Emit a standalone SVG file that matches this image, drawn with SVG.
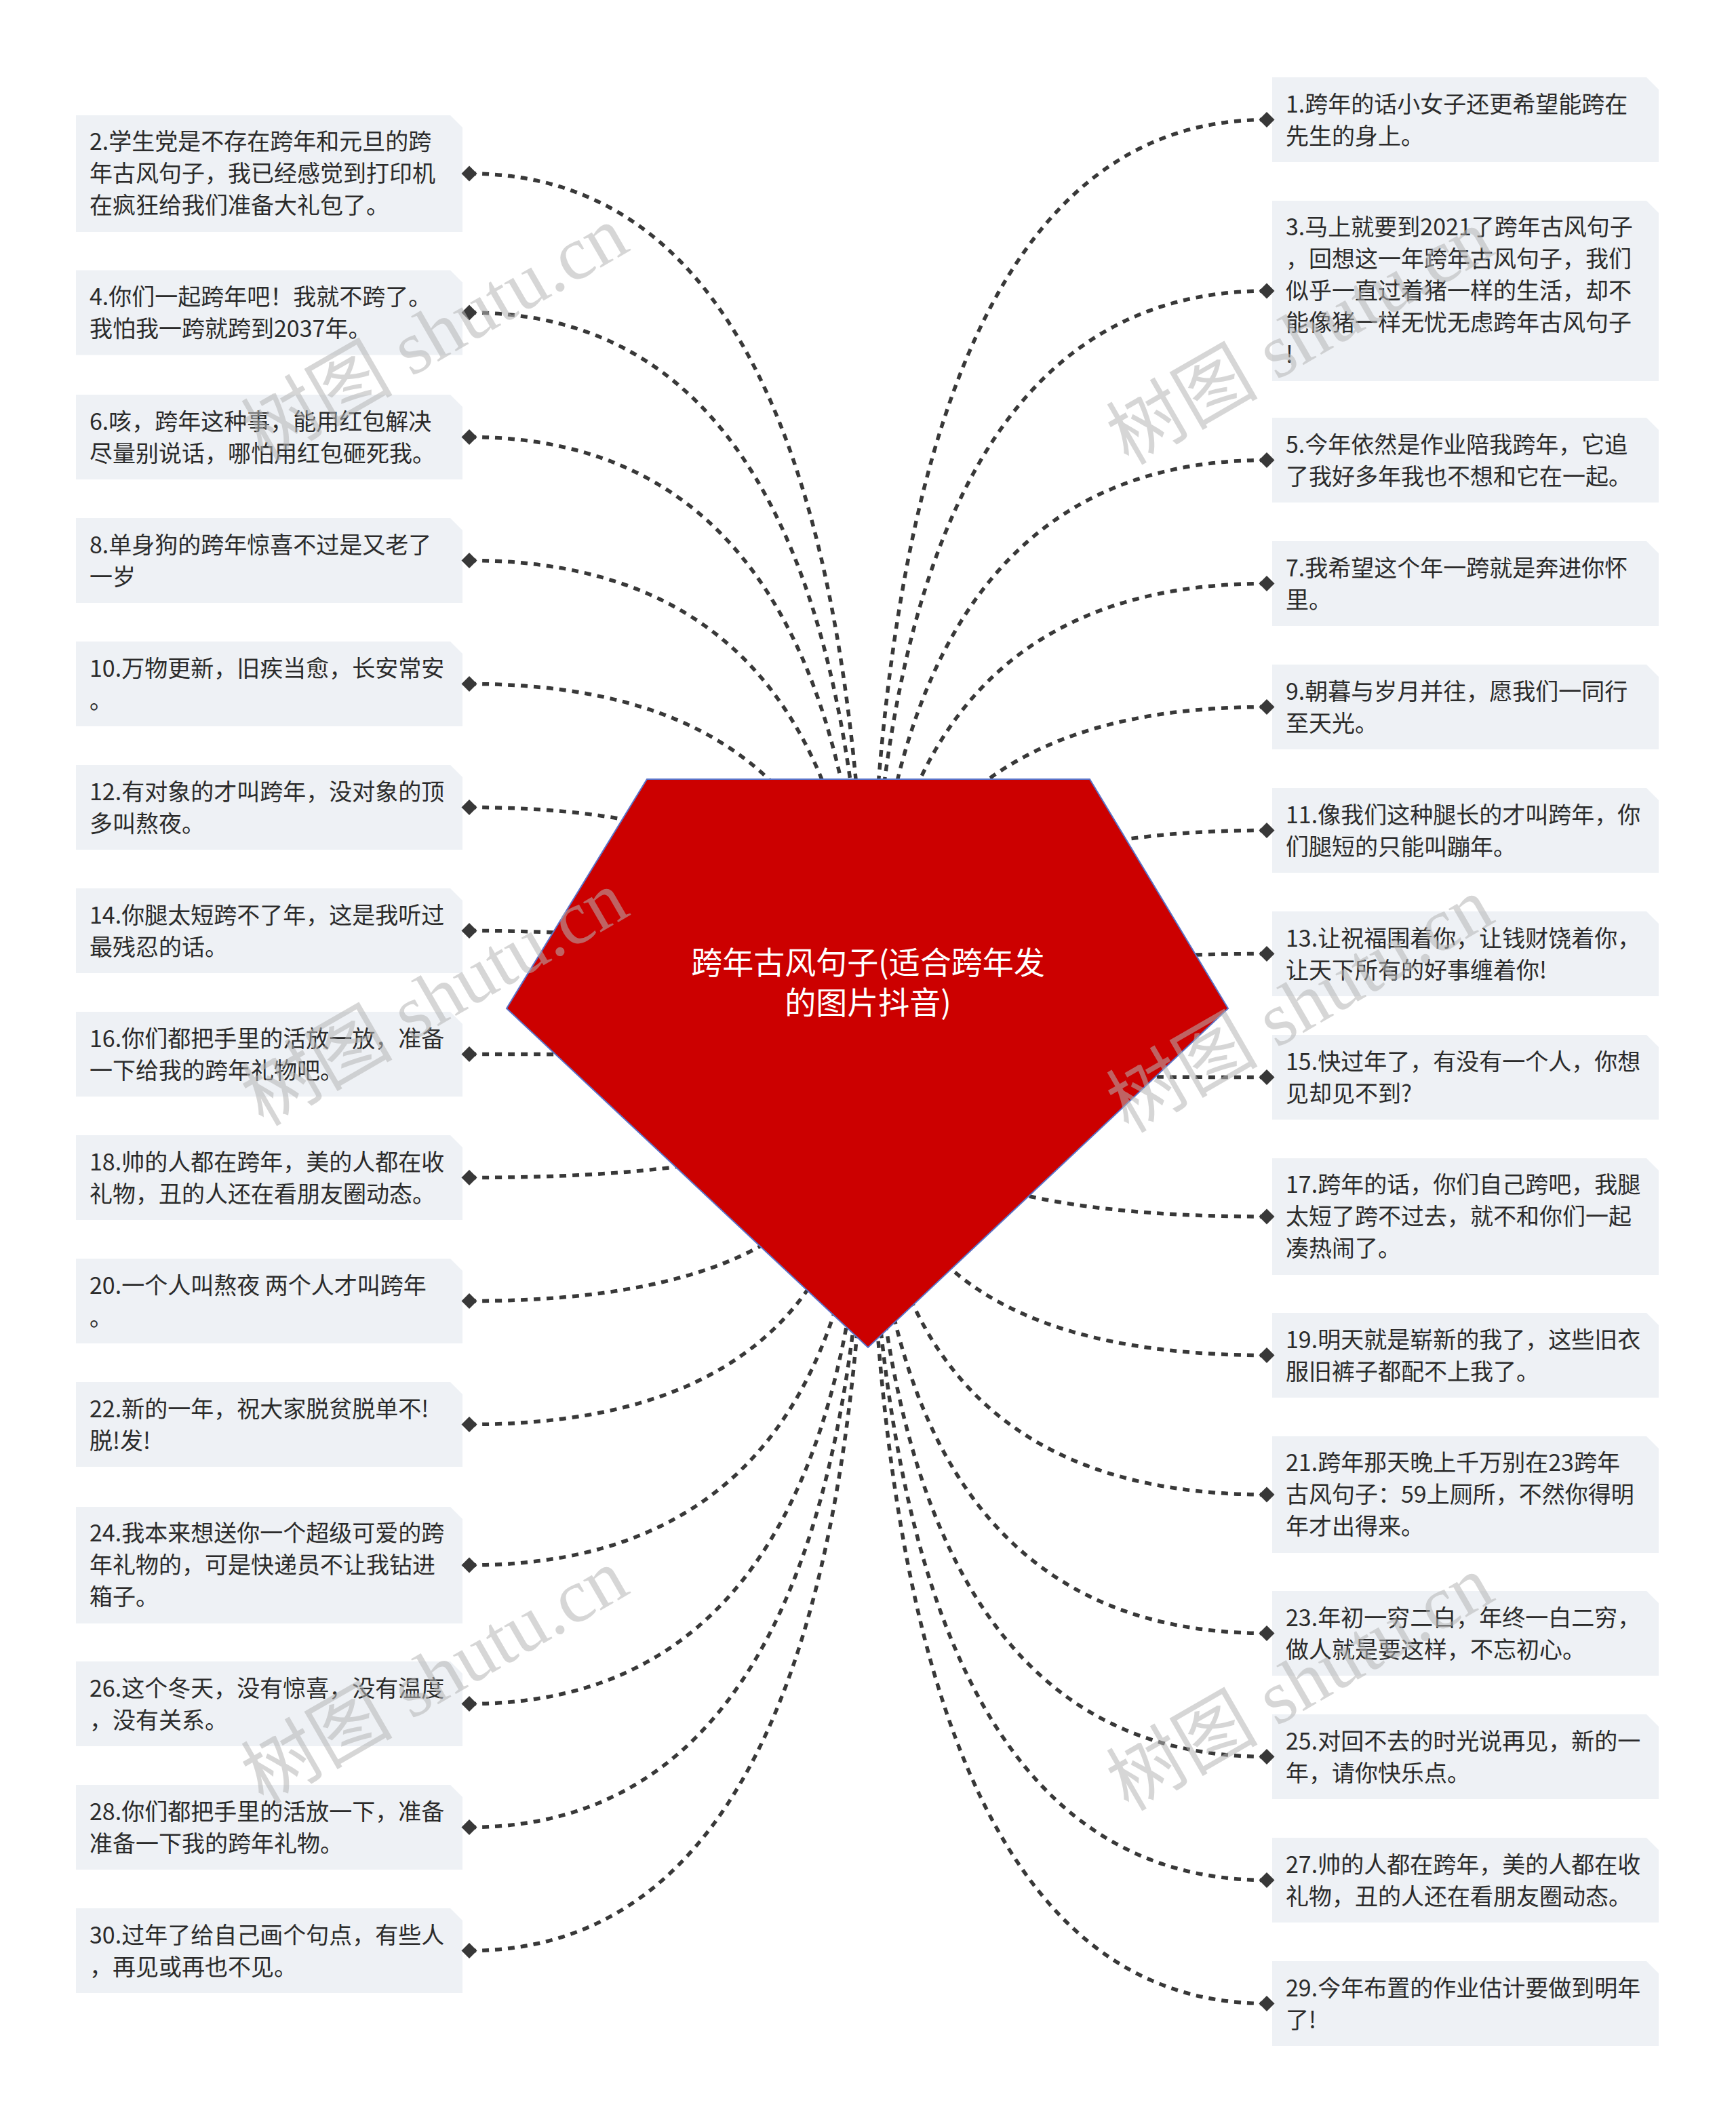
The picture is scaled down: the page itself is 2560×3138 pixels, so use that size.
<svg xmlns="http://www.w3.org/2000/svg" width="2560" height="3138" viewBox="0 0 2560 3138">
<defs>
<style>
.box{fill:#eef1f5;}
.t{font-family:"Noto Sans CJK SC","Noto Sans",sans-serif;font-size:34px;fill:#2b2b2b;}
.conn{fill:none;stroke:#383838;stroke-width:5.5;stroke-dasharray:10 9;}
.dia{fill:#383838;}
.root{fill:#cc0000;stroke:#5a72c8;stroke-width:2;}
.rt{font-family:"Noto Sans CJK SC","Noto Sans",sans-serif;font-size:46px;fill:#ffffff;text-anchor:middle;}
.wm{font-family:"Liberation Serif","Noto Sans CJK SC",serif;font-size:112px;fill:#b4b4b4;fill-opacity:0.55;text-anchor:middle;}
</style>
<path id="d" d="M -11.5 0 L 0 -11.5 L 11.5 0 L 0 11.5 Z"/>
</defs>
<rect width="2560" height="3138" fill="#ffffff"/>
<g id="connectors">
<path class="conn" d="M 692 256 Q 1280 256 1280 1568"/>
<path class="conn" d="M 692 461 Q 1280 461 1280 1568"/>
<path class="conn" d="M 692 644.5 Q 1280 644.5 1280 1568"/>
<path class="conn" d="M 692 826.5 Q 1280 826.5 1280 1568"/>
<path class="conn" d="M 692 1008.5 Q 1280 1008.5 1280 1568"/>
<path class="conn" d="M 692 1190.5 Q 1280 1190.5 1280 1568"/>
<path class="conn" d="M 692 1372.5 Q 1280 1372.5 1280 1568"/>
<path class="conn" d="M 692 1554.5 Q 1280 1554.5 1280 1568"/>
<path class="conn" d="M 692 1736.5 Q 1280 1736.5 1280 1568"/>
<path class="conn" d="M 692 1918.5 Q 1280 1918.5 1280 1568"/>
<path class="conn" d="M 692 2100.5 Q 1280 2100.5 1280 1568"/>
<path class="conn" d="M 692 2308 Q 1280 2308 1280 1568"/>
<path class="conn" d="M 692 2512.5 Q 1280 2512.5 1280 1568"/>
<path class="conn" d="M 692 2694.5 Q 1280 2694.5 1280 1568"/>
<path class="conn" d="M 692 2876.5 Q 1280 2876.5 1280 1568"/>
<path class="conn" d="M 1868 176.5 Q 1280 176.5 1280 1568"/>
<path class="conn" d="M 1868 429 Q 1280 429 1280 1568"/>
<path class="conn" d="M 1868 678.5 Q 1280 678.5 1280 1568"/>
<path class="conn" d="M 1868 860.5 Q 1280 860.5 1280 1568"/>
<path class="conn" d="M 1868 1042.5 Q 1280 1042.5 1280 1568"/>
<path class="conn" d="M 1868 1224.5 Q 1280 1224.5 1280 1568"/>
<path class="conn" d="M 1868 1406.5 Q 1280 1406.5 1280 1568"/>
<path class="conn" d="M 1868 1588.5 Q 1280 1588.5 1280 1568"/>
<path class="conn" d="M 1868 1794 Q 1280 1794 1280 1568"/>
<path class="conn" d="M 1868 1998.5 Q 1280 1998.5 1280 1568"/>
<path class="conn" d="M 1868 2204 Q 1280 2204 1280 1568"/>
<path class="conn" d="M 1868 2408.5 Q 1280 2408.5 1280 1568"/>
<path class="conn" d="M 1868 2590.5 Q 1280 2590.5 1280 1568"/>
<path class="conn" d="M 1868 2772.5 Q 1280 2772.5 1280 1568"/>
<path class="conn" d="M 1868 2954.5 Q 1280 2954.5 1280 1568"/>
</g>
<g id="root">
<polygon class="root" points="954,1149 1607,1149 1811,1487 1280,1987 747,1487"/>
<text class="rt" x="1280" y="1436">跨年古风句子(适合跨年发</text>
<text class="rt" x="1280" y="1495">的图片抖音)</text>
</g>
<g id="n2"><path class="box" d="M 112 170 h 552 l 18 18 v 154 h -570 Z"/><text class="t" x="132" y="221">2.学生党是不存在跨年和元旦的跨<tspan x="132" dy="47">年古风句子，我已经感觉到打印机</tspan><tspan x="132" dy="47">在疯狂给我们准备大礼包了。</tspan></text><use href="#d" class="dia" x="692" y="256"/></g>
<g id="n4"><path class="box" d="M 112 398.5 h 552 l 18 18 v 107 h -570 Z"/><text class="t" x="132" y="450">4.你们一起跨年吧！我就不跨了。<tspan x="132" dy="47">我怕我一跨就跨到2037年。</tspan></text><use href="#d" class="dia" x="692" y="461"/></g>
<g id="n6"><path class="box" d="M 112 582 h 552 l 18 18 v 107 h -570 Z"/><text class="t" x="132" y="633.5">6.咳，跨年这种事，能用红包解决<tspan x="132" dy="47">尽量别说话，哪怕用红包砸死我。</tspan></text><use href="#d" class="dia" x="692" y="644.5"/></g>
<g id="n8"><path class="box" d="M 112 764 h 552 l 18 18 v 107 h -570 Z"/><text class="t" x="132" y="815.5">8.单身狗的跨年惊喜不过是又老了<tspan x="132" dy="47">一岁</tspan></text><use href="#d" class="dia" x="692" y="826.5"/></g>
<g id="n10"><path class="box" d="M 112 946 h 552 l 18 18 v 107 h -570 Z"/><text class="t" x="132" y="997.5">10.万物更新，旧疾当愈，长安常安<tspan x="132" dy="47">。</tspan></text><use href="#d" class="dia" x="692" y="1008.5"/></g>
<g id="n12"><path class="box" d="M 112 1128 h 552 l 18 18 v 107 h -570 Z"/><text class="t" x="132" y="1179.5">12.有对象的才叫跨年，没对象的顶<tspan x="132" dy="47">多叫熬夜。</tspan></text><use href="#d" class="dia" x="692" y="1190.5"/></g>
<g id="n14"><path class="box" d="M 112 1310 h 552 l 18 18 v 107 h -570 Z"/><text class="t" x="132" y="1361.5">14.你腿太短跨不了年，这是我听过<tspan x="132" dy="47">最残忍的话。</tspan></text><use href="#d" class="dia" x="692" y="1372.5"/></g>
<g id="n16"><path class="box" d="M 112 1492 h 552 l 18 18 v 107 h -570 Z"/><text class="t" x="132" y="1543.5">16.你们都把手里的活放一放，准备<tspan x="132" dy="47">一下给我的跨年礼物吧。</tspan></text><use href="#d" class="dia" x="692" y="1554.5"/></g>
<g id="n18"><path class="box" d="M 112 1674 h 552 l 18 18 v 107 h -570 Z"/><text class="t" x="132" y="1725.5">18.帅的人都在跨年，美的人都在收<tspan x="132" dy="47">礼物，丑的人还在看朋友圈动态。</tspan></text><use href="#d" class="dia" x="692" y="1736.5"/></g>
<g id="n20"><path class="box" d="M 112 1856 h 552 l 18 18 v 107 h -570 Z"/><text class="t" x="132" y="1907.5">20.一个人叫熬夜 两个人才叫跨年<tspan x="132" dy="47">。</tspan></text><use href="#d" class="dia" x="692" y="1918.5"/></g>
<g id="n22"><path class="box" d="M 112 2038 h 552 l 18 18 v 107 h -570 Z"/><text class="t" x="132" y="2089.5">22.新的一年，祝大家脱贫脱单不!<tspan x="132" dy="47">脱!发!</tspan></text><use href="#d" class="dia" x="692" y="2100.5"/></g>
<g id="n24"><path class="box" d="M 112 2222 h 552 l 18 18 v 154 h -570 Z"/><text class="t" x="132" y="2273">24.我本来想送你一个超级可爱的跨<tspan x="132" dy="47">年礼物的，可是快递员不让我钻进</tspan><tspan x="132" dy="47">箱子。</tspan></text><use href="#d" class="dia" x="692" y="2308"/></g>
<g id="n26"><path class="box" d="M 112 2450 h 552 l 18 18 v 107 h -570 Z"/><text class="t" x="132" y="2501.5">26.这个冬天，没有惊喜，没有温度<tspan x="132" dy="47">，没有关系。</tspan></text><use href="#d" class="dia" x="692" y="2512.5"/></g>
<g id="n28"><path class="box" d="M 112 2632 h 552 l 18 18 v 107 h -570 Z"/><text class="t" x="132" y="2683.5">28.你们都把手里的活放一下，准备<tspan x="132" dy="47">准备一下我的跨年礼物。</tspan></text><use href="#d" class="dia" x="692" y="2694.5"/></g>
<g id="n30"><path class="box" d="M 112 2814 h 552 l 18 18 v 107 h -570 Z"/><text class="t" x="132" y="2865.5">30.过年了给自己画个句点，有些人<tspan x="132" dy="47">，再见或再也不见。</tspan></text><use href="#d" class="dia" x="692" y="2876.5"/></g>
<g id="n1"><path class="box" d="M 1876 114 h 552 l 18 18 v 107 h -570 Z"/><text class="t" x="1896" y="165.5">1.跨年的话小女子还更希望能跨在<tspan x="1896" dy="47">先生的身上。</tspan></text><use href="#d" class="dia" x="1868" y="176.5"/></g>
<g id="n3"><path class="box" d="M 1876 296 h 552 l 18 18 v 248 h -570 Z"/><text class="t" x="1896" y="347">3.马上就要到2021了跨年古风句子<tspan x="1896" dy="47">，回想这一年跨年古风句子，我们</tspan><tspan x="1896" dy="47">似乎一直过着猪一样的生活，却不</tspan><tspan x="1896" dy="47">能像猪一样无忧无虑跨年古风句子</tspan><tspan x="1896" dy="47">!</tspan></text><use href="#d" class="dia" x="1868" y="429"/></g>
<g id="n5"><path class="box" d="M 1876 616 h 552 l 18 18 v 107 h -570 Z"/><text class="t" x="1896" y="667.5">5.今年依然是作业陪我跨年，它追<tspan x="1896" dy="47">了我好多年我也不想和它在一起。</tspan></text><use href="#d" class="dia" x="1868" y="678.5"/></g>
<g id="n7"><path class="box" d="M 1876 798 h 552 l 18 18 v 107 h -570 Z"/><text class="t" x="1896" y="849.5">7.我希望这个年一跨就是奔进你怀<tspan x="1896" dy="47">里。</tspan></text><use href="#d" class="dia" x="1868" y="860.5"/></g>
<g id="n9"><path class="box" d="M 1876 980 h 552 l 18 18 v 107 h -570 Z"/><text class="t" x="1896" y="1031.5">9.朝暮与岁月并往，愿我们一同行<tspan x="1896" dy="47">至天光。</tspan></text><use href="#d" class="dia" x="1868" y="1042.5"/></g>
<g id="n11"><path class="box" d="M 1876 1162 h 552 l 18 18 v 107 h -570 Z"/><text class="t" x="1896" y="1213.5">11.像我们这种腿长的才叫跨年，你<tspan x="1896" dy="47">们腿短的只能叫蹦年。</tspan></text><use href="#d" class="dia" x="1868" y="1224.5"/></g>
<g id="n13"><path class="box" d="M 1876 1344 h 552 l 18 18 v 107 h -570 Z"/><text class="t" x="1896" y="1395.5">13.让祝福围着你，让钱财饶着你，<tspan x="1896" dy="47">让天下所有的好事缠着你!</tspan></text><use href="#d" class="dia" x="1868" y="1406.5"/></g>
<g id="n15"><path class="box" d="M 1876 1526 h 552 l 18 18 v 107 h -570 Z"/><text class="t" x="1896" y="1577.5">15.快过年了，有没有一个人，你想<tspan x="1896" dy="47">见却见不到?</tspan></text><use href="#d" class="dia" x="1868" y="1588.5"/></g>
<g id="n17"><path class="box" d="M 1876 1708 h 552 l 18 18 v 154 h -570 Z"/><text class="t" x="1896" y="1759">17.跨年的话，你们自己跨吧，我腿<tspan x="1896" dy="47">太短了跨不过去，就不和你们一起</tspan><tspan x="1896" dy="47">凑热闹了。</tspan></text><use href="#d" class="dia" x="1868" y="1794"/></g>
<g id="n19"><path class="box" d="M 1876 1936 h 552 l 18 18 v 107 h -570 Z"/><text class="t" x="1896" y="1987.5">19.明天就是崭新的我了，这些旧衣<tspan x="1896" dy="47">服旧裤子都配不上我了。</tspan></text><use href="#d" class="dia" x="1868" y="1998.5"/></g>
<g id="n21"><path class="box" d="M 1876 2118 h 552 l 18 18 v 154 h -570 Z"/><text class="t" x="1896" y="2169">21.跨年那天晚上千万别在23跨年<tspan x="1896" dy="47">古风句子：59上厕所，不然你得明</tspan><tspan x="1896" dy="47">年才出得来。</tspan></text><use href="#d" class="dia" x="1868" y="2204"/></g>
<g id="n23"><path class="box" d="M 1876 2346 h 552 l 18 18 v 107 h -570 Z"/><text class="t" x="1896" y="2397.5">23.年初一穷二白，年终一白二穷，<tspan x="1896" dy="47">做人就是要这样，不忘初心。</tspan></text><use href="#d" class="dia" x="1868" y="2408.5"/></g>
<g id="n25"><path class="box" d="M 1876 2528 h 552 l 18 18 v 107 h -570 Z"/><text class="t" x="1896" y="2579.5">25.对回不去的时光说再见，新的一<tspan x="1896" dy="47">年，请你快乐点。</tspan></text><use href="#d" class="dia" x="1868" y="2590.5"/></g>
<g id="n27"><path class="box" d="M 1876 2710 h 552 l 18 18 v 107 h -570 Z"/><text class="t" x="1896" y="2761.5">27.帅的人都在跨年，美的人都在收<tspan x="1896" dy="47">礼物，丑的人还在看朋友圈动态。</tspan></text><use href="#d" class="dia" x="1868" y="2772.5"/></g>
<g id="n29"><path class="box" d="M 1876 2892 h 552 l 18 18 v 107 h -570 Z"/><text class="t" x="1896" y="2943.5">29.今年布置的作业估计要做到明年<tspan x="1896" dy="47">了!</tspan></text><use href="#d" class="dia" x="1868" y="2954.5"/></g>
<g id="watermarks">
<text class="wm" transform="translate(660 525) rotate(-30)">树图 shutu.cn</text>
<text class="wm" transform="translate(1936 530) rotate(-30)">树图 shutu.cn</text>
<text class="wm" transform="translate(660 1505) rotate(-30)">树图 shutu.cn</text>
<text class="wm" transform="translate(1936 1515) rotate(-30)">树图 shutu.cn</text>
<text class="wm" transform="translate(660 2505) rotate(-30)">树图 shutu.cn</text>
<text class="wm" transform="translate(1936 2515) rotate(-30)">树图 shutu.cn</text>
</g>
</svg>
